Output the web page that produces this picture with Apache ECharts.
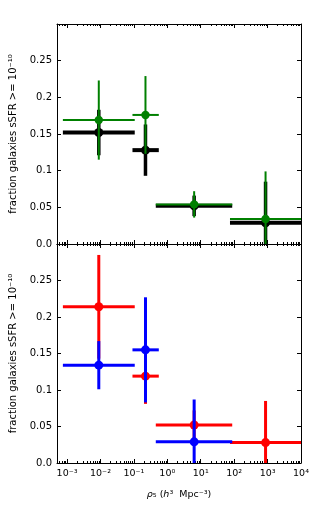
<!DOCTYPE html>
<html>
<head>
<meta charset="utf-8">
<script src="https://cdn.jsdelivr.net/npm/echarts@6/dist/echarts.min.js"></script>
<style>html,body{margin:0;padding:0;background:#fff;}#c{width:316px;height:510px;}</style>
</head>
<body>
<div id="c"></div>
<script>
// ---- data (x in h^3 Mpc^-3, y = fraction) ----
const xMajorTicks = [-3, -2, -1, 0, 1, 2, 3, 4];          // log10 of decade ticks
const xTickLabels = ['10⁻³','10⁻²','10⁻¹','10⁰','10¹','10²','10³','10⁴'];
const yTicks = [0, 0.05, 0.1, 0.15, 0.2, 0.25];
const yTickLabels = ['0.0','0.05','0.1','0.15','0.2','0.25'];

// top panel
const blackX   = [0.0089, 0.222, 6.35, 870];
const blackLo  = [0.00075, 0.0906, 0.452, 75];
const blackHi  = [0.106, 0.556, 87.5, 20000];
const blackY   = [0.152, 0.128, 0.052, 0.029];
const blackErr = [0.031, 0.035, 0.014, 0.056];

const greenX   = [0.0089, 0.222, 6.35, 870];
const greenLo  = [0.00075, 0.0906, 0.452, 75];
const greenHi  = [0.106, 0.556, 87.5, 20000];
const greenY   = [0.169, 0.176, 0.054, 0.034];
const greenErr = [0.054, 0.053, 0.018, 0.065];

// bottom panel
const redX   = [0.0089, 0.222, 6.35, 870];
const redLo  = [0.00075, 0.0906, 0.452, 75];
const redHi  = [0.106, 0.556, 87.5, 20000];
const redY   = [0.214, 0.119, 0.052, 0.028];
const redErr = [0.071, 0.038, 0.02, 0.057];

const blueX   = [0.0089, 0.222, 6.35];
const blueLo  = [0.00075, 0.0906, 0.452];
const blueHi  = [0.106, 0.556, 87.5];
const blueY   = [0.134, 0.155, 0.029];
const blueErr = [0.033, 0.072, 0.058];

// ---- build ----
const L = Math.log10;
const xMin = L(5e-4), xMax = 4;
const xMinor = [];
for (let n = -4; n <= 3; n++) for (let k = 2; k <= 9; k++) {
  const v = L(k * Math.pow(10, n));
  if (v > xMin + 0.01 && v < xMax) xMinor.push(v);
}
function build(xs, lo, hi, ys, er) {
  return xs.map((x, i) => [L(x), ys[i], L(lo[i]), L(hi[i]), er[i]]);
}
const FONT = 'DejaVu Sans';
function makeRender(color, hw, vw, r) {
  return function (params, api) {
    const x = api.value(0), y = api.value(1), xl = api.value(2), xh = api.value(3), e = api.value(4);
    const c = api.coord([x, y]), a = api.coord([xl, y]), b = api.coord([xh, y]);
    const t = api.coord([x, y + e]), d = api.coord([x, y - e]);
    return {type: 'group', children: [
      {type: 'line', shape: {x1: a[0], y1: a[1], x2: b[0], y2: b[1]}, style: {stroke: color, lineWidth: hw}},
      {type: 'line', shape: {x1: t[0], y1: t[1], x2: d[0], y2: d[1]}, style: {stroke: color, lineWidth: vw}},
      {type: 'circle', shape: {cx: c[0], cy: c[1], r: r}, style: {fill: color}}
    ]};
  };
}
const line = {show: true, onZero: false, lineStyle: {color: '#000', width: 1}};
function xAx(grid, pos, major, labels) {
  return {
    type: 'value', gridIndex: grid, position: pos, min: xMin, max: xMax,
    axisLine: major ? line : {show: false, onZero: false},
    axisTick: {show: true, inside: true, length: major ? 4 : 2, lineStyle: {color: '#000', width: 1},
               customValues: major ? xMajorTicks : xMinor},
    axisLabel: labels ? {show: true, customValues: xMajorTicks, fontFamily: FONT, fontSize: 9.5, color: '#000', margin: 6,
               formatter: v => xTickLabels[xMajorTicks.indexOf(Math.round(v))]} : {show: false},
    splitLine: {show: false},
    name: labels ? '{i|ρ}₅ ({i|h}³  Mpc⁻³)' : '',
    nameLocation: 'middle', nameGap: 27,
    nameTextStyle: {fontFamily: FONT, fontSize: 9.5, color: '#000', rich: {i: {fontStyle: 'italic', fontFamily: FONT, fontSize: 9.5}}}
  };
}
function yAx(grid, pos, labels) {
  return {
    type: 'value', gridIndex: grid, position: pos, min: 0, max: 0.3,
    axisLine: line,
    axisTick: {show: true, inside: true, length: 4, lineStyle: {color: '#000', width: 1}, customValues: yTicks},
    axisLabel: labels ? {show: true, customValues: yTicks, fontFamily: FONT, fontSize: 10, color: '#000', margin: 5,
               formatter: v => yTickLabels[Math.round(v * 20)]} : {show: false},
    splitLine: {show: false},
    name: labels ? 'fraction galaxies sSFR >= 10⁻¹⁰' : '',
    nameLocation: 'middle', nameGap: 37,
    nameTextStyle: {fontFamily: FONT, fontSize: 10, color: '#000'}
  };
}
const option = {
  backgroundColor: '#fff',
  animation: false,
  grid: [
    {left: 57, top: 24, width: 244, height: 220},
    {left: 57, top: 244, width: 244, height: 219}
  ],
  xAxis: [
    xAx(0, 'bottom', true, false), xAx(0, 'bottom', false, false),
    xAx(0, 'top', true, false), xAx(0, 'top', false, false),
    xAx(1, 'bottom', true, true), xAx(1, 'bottom', false, false),
    xAx(1, 'top', true, false), xAx(1, 'top', false, false)
  ],
  yAxis: [
    yAx(0, 'left', true), yAx(0, 'right', false),
    yAx(1, 'left', true), yAx(1, 'right', false)
  ],
  series: [
    {type: 'custom', xAxisIndex: 0, yAxisIndex: 0, clip: true, z: 2,
     renderItem: makeRender('#000000', 4, 3.5, 4.5), data: build(blackX, blackLo, blackHi, blackY, blackErr)},
    {type: 'custom', xAxisIndex: 0, yAxisIndex: 0, clip: true, z: 3,
     renderItem: makeRender('#008000', 2, 2, 4.2), data: build(greenX, greenLo, greenHi, greenY, greenErr)},
    {type: 'custom', xAxisIndex: 4, yAxisIndex: 2, clip: true, z: 2,
     renderItem: makeRender('#ff0000', 3, 3, 4.5), data: build(redX, redLo, redHi, redY, redErr)},
    {type: 'custom', xAxisIndex: 4, yAxisIndex: 2, clip: true, z: 3,
     renderItem: makeRender('#0000ff', 3, 3, 4.5), data: build(blueX, blueLo, blueHi, blueY, blueErr)}
  ]
};
echarts.init(document.getElementById('c'), null, {renderer: 'canvas'}).setOption(option);
</script>
</body>
</html>
